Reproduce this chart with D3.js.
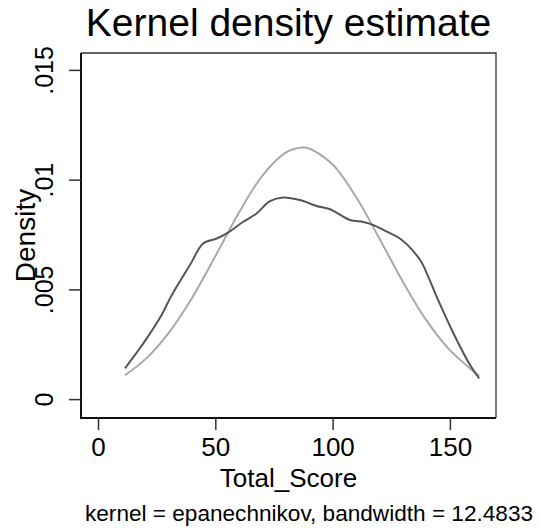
<!DOCTYPE html>
<html>
<head>
<meta charset="utf-8">
<script src="https://cdn.jsdelivr.net/npm/d3@7"></script>
<style>
  body { margin: 0; background: #fff; }
  text { font-family: "Liberation Sans", Arial, Helvetica, sans-serif; fill: #000; }
</style>
</head>
<body>
<div id="chart"></div>
<script>
// ----------------- //
// Data (read off)   //
// ----------------- //
var xTicks = [0, 50, 100, 150];
var yTicks = [0, 0.005, 0.01, 0.015];
var yTickLabels = ["0", ".005", ".01", ".015"];

// kernel density estimate of Total_Score
var kdeScore = [11.5, 16, 20.8, 27.1, 30.7, 33.5, 39.2, 44.9, 50.6, 54.9, 61.9, 67.6, 73.3, 79, 86.1, 93.2, 98.9, 107.4, 113.1, 117.4, 123.1, 128.7, 137.3, 140.8, 144.4, 151.5, 158.6, 162.5];
var kdeDensity = [0.00140, 0.00205, 0.00277, 0.00383, 0.00459, 0.00512, 0.00611, 0.00710, 0.00732, 0.00755, 0.00808, 0.00846, 0.00902, 0.00919, 0.00907, 0.00880, 0.00865, 0.00816, 0.00807, 0.00793, 0.00763, 0.00732, 0.00634, 0.00557, 0.00466, 0.00300, 0.00155, 0.00094];

// normal density overlay
var normScore = [11.5, 20, 30, 40, 50, 60, 70, 80, 87, 90, 100, 110, 120, 130, 140, 150, 160, 162.5];
var normDensity = [0.00109, 0.00180, 0.00300, 0.00460, 0.00651, 0.00848, 0.01017, 0.01123, 0.01146, 0.01142, 0.01069, 0.00921, 0.00731, 0.00534, 0.00359, 0.00223, 0.00127, 0.00105];

// ----------------- //
// Set up chart      //
// ----------------- //
var svgWidth = 540;
var svgHeight = 531;
var plot = { left: 81, right: 496, top: 53, bottom: 418 };

var svg = d3.select("#chart")
  .append("svg")
  .attr("width", svgWidth)
  .attr("height", svgHeight);

var x = d3.scaleLinear()
  .domain([-7.25, 169.65])
  .range([plot.left, plot.right]);

var y = d3.scaleLinear()
  .domain([-0.00086, 0.01577])
  .range([plot.bottom, plot.top]);

// frame (top and right)
svg.append("path")
  .attr("d", `M${plot.left},${plot.top}H${plot.right}V${plot.bottom}`)
  .attr("fill", "none")
  .attr("stroke", "#333")
  .attr("stroke-width", 1.3);

// x axis
var xAxis = svg.append("g")
  .attr("transform", `translate(0, ${plot.bottom})`)
  .call(d3.axisBottom(x).tickValues(xTicks).tickSize(12).tickPadding(8).tickSizeOuter(0));
xAxis.select(".domain").attr("stroke", "#111").attr("stroke-width", 2)
  .attr("d", `M${plot.left - 1},0H${plot.right}`);
xAxis.selectAll(".tick line").attr("stroke", "#333").attr("stroke-width", 1.5);
xAxis.selectAll(".tick text")
  .style("font-size", "26px")
  .attr("y", 38)
  .attr("dy", 0);

// y axis
var yAxis = svg.append("g")
  .attr("transform", `translate(${plot.left}, 0)`)
  .call(d3.axisLeft(y).tickValues(yTicks).tickFormat((d, i) => yTickLabels[i]).tickSize(12).tickSizeOuter(0));
yAxis.select(".domain").attr("stroke", "#111").attr("stroke-width", 2)
  .attr("d", `M0,${plot.top}V${plot.bottom + 1}`);
yAxis.selectAll(".tick line").attr("stroke", "#333").attr("stroke-width", 1.5);
yAxis.selectAll(".tick text")
  .style("font-size", "25px")
  .attr("x", 0)
  .attr("dy", 0)
  .attr("text-anchor", "middle")
  .attr("transform", "translate(-28,0) rotate(-90)");

// ----------------- //
// Curves            //
// ----------------- //
var line = d3.line()
  .x(d => x(d[0]))
  .y(d => y(d[1]))
  .curve(d3.curveCatmullRom);

svg.append("path")
  .datum(normScore.map((s, i) => [s, normDensity[i]]))
  .attr("d", line)
  .attr("fill", "none")
  .attr("stroke", "#a9a9a9")
  .attr("stroke-width", 2);

svg.append("path")
  .datum(kdeScore.map((s, i) => [s, kdeDensity[i]]))
  .attr("d", line)
  .attr("fill", "none")
  .attr("stroke", "#555")
  .attr("stroke-width", 2);

// ----------------- //
// Titles and notes  //
// ----------------- //
svg.append("text")
  .attr("x", (plot.left + plot.right) / 2)
  .attr("y", 36)
  .attr("text-anchor", "middle")
  .style("font-size", "39px")
  .text("Kernel density estimate");

svg.append("text")
  .attr("x", (plot.left + plot.right) / 2)
  .attr("y", 487)
  .attr("text-anchor", "middle")
  .style("font-size", "26px")
  .text("Total_Score");

svg.append("text")
  .attr("transform", `translate(35, ${(plot.top + plot.bottom) / 2}) rotate(-90)`)
  .attr("text-anchor", "middle")
  .style("font-size", "28px")
  .text("Density");

svg.append("text")
  .attr("x", 85)
  .attr("y", 521)
  .style("font-size", "22.6px")
  .text("kernel = epanechnikov, bandwidth = 12.4833");
</script>
</body>
</html>
